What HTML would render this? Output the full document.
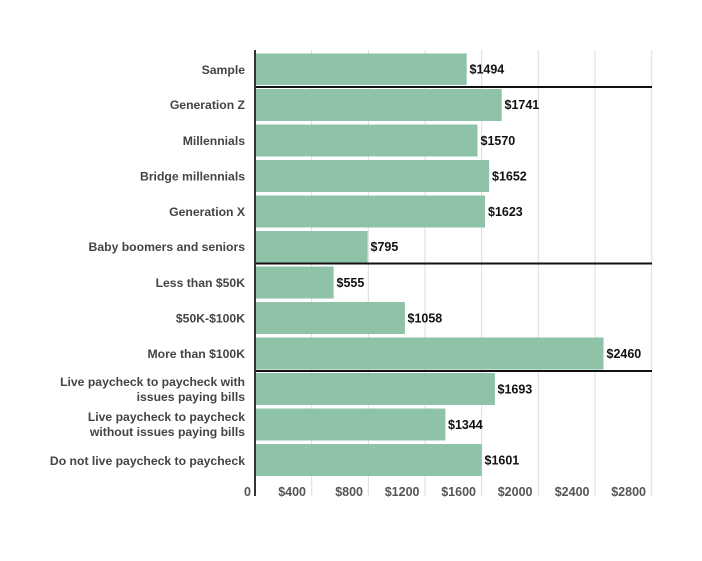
<!DOCTYPE html>
<html><head><style>
body{margin:0;background:#fff;width:702px;height:556px;overflow:hidden;font-family:"Liberation Sans",sans-serif}
svg text{font-family:"Liberation Sans",sans-serif}
</style></head><body>
<svg width="702" height="556" xmlns="http://www.w3.org/2000/svg">
<g stroke="#dcdcdc" stroke-width="1">
<line x1="311.7" y1="50" x2="311.7" y2="496"/><line x1="368.3" y1="50" x2="368.3" y2="496"/>
<line x1="425" y1="50" x2="425" y2="496"/><line x1="481.7" y1="50" x2="481.7" y2="496"/>
<line x1="538.3" y1="50" x2="538.3" y2="496"/><line x1="595" y1="50" x2="595" y2="496"/>
<line x1="651.7" y1="50" x2="651.7" y2="496"/>
</g>
<g fill="#8fc3a7">
<rect x="255" y="53.5" width="211.7" height="31.5"/>
<rect x="255" y="89" width="246.7" height="32"/>
<rect x="255" y="124.5" width="222.5" height="32"/>
<rect x="255" y="160" width="234.1" height="32"/>
<rect x="255" y="195.5" width="230" height="32"/>
<rect x="255" y="231" width="112.6" height="32"/>
<rect x="255" y="266.5" width="78.6" height="32"/>
<rect x="255" y="302" width="149.9" height="32"/>
<rect x="255" y="337.5" width="348.5" height="32"/>
<rect x="255" y="373" width="239.9" height="32"/>
<rect x="255" y="408.5" width="190.4" height="32"/>
<rect x="255" y="444" width="226.8" height="32"/>
</g>
<g stroke="#111" stroke-width="2">
<line x1="255" y1="87" x2="652" y2="87"/>
<line x1="255" y1="263.5" x2="652" y2="263.5"/>
<line x1="255" y1="371" x2="652" y2="371"/>
<line x1="255" y1="50" x2="255" y2="496" stroke="#333"/>
</g>
<g font-size="12.5" font-weight="bold" fill="#111">
<text x="469.5" y="73.5">$1494</text>
<text x="504.5" y="109">$1741</text>
<text x="480.5" y="145">$1570</text>
<text x="492" y="180.5">$1652</text>
<text x="488" y="216">$1623</text>
<text x="370.5" y="251">$795</text>
<text x="336.5" y="287">$555</text>
<text x="407.5" y="322.5">$1058</text>
<text x="606.5" y="358">$2460</text>
<text x="497.5" y="393.5">$1693</text>
<text x="448" y="429">$1344</text>
<text x="484.5" y="464.5">$1601</text>
</g>
<g font-size="12.2" font-weight="bold" fill="#444" text-anchor="end">
<text x="245" y="74">Sample</text>
<text x="245" y="109">Generation Z</text>
<text x="245" y="145">Millennials</text>
<text x="245" y="180.5">Bridge millennials</text>
<text x="245" y="216">Generation X</text>
<text x="245" y="251">Baby boomers and seniors</text>
<text x="245" y="287">Less than $50K</text>
<text x="245" y="322.5">$50K-$100K</text>
<text x="245" y="358">More than $100K</text>
<text x="245" y="386">Live paycheck to paycheck with</text>
<text x="245" y="401">issues paying bills</text>
<text x="245" y="421">Live paycheck to paycheck</text>
<text x="245" y="436">without issues paying bills</text>
<text x="245" y="465">Do not live paycheck to paycheck</text>
</g>
<g font-size="12.5" font-weight="bold" fill="#555" text-anchor="end">
<text x="251" y="496">0</text>
<text x="306" y="496">$400</text>
<text x="363" y="496">$800</text>
<text x="419.5" y="496">$1200</text>
<text x="476" y="496">$1600</text>
<text x="532.5" y="496">$2000</text>
<text x="589.5" y="496">$2400</text>
<text x="646" y="496">$2800</text>
</g>
</svg>
</body></html>
